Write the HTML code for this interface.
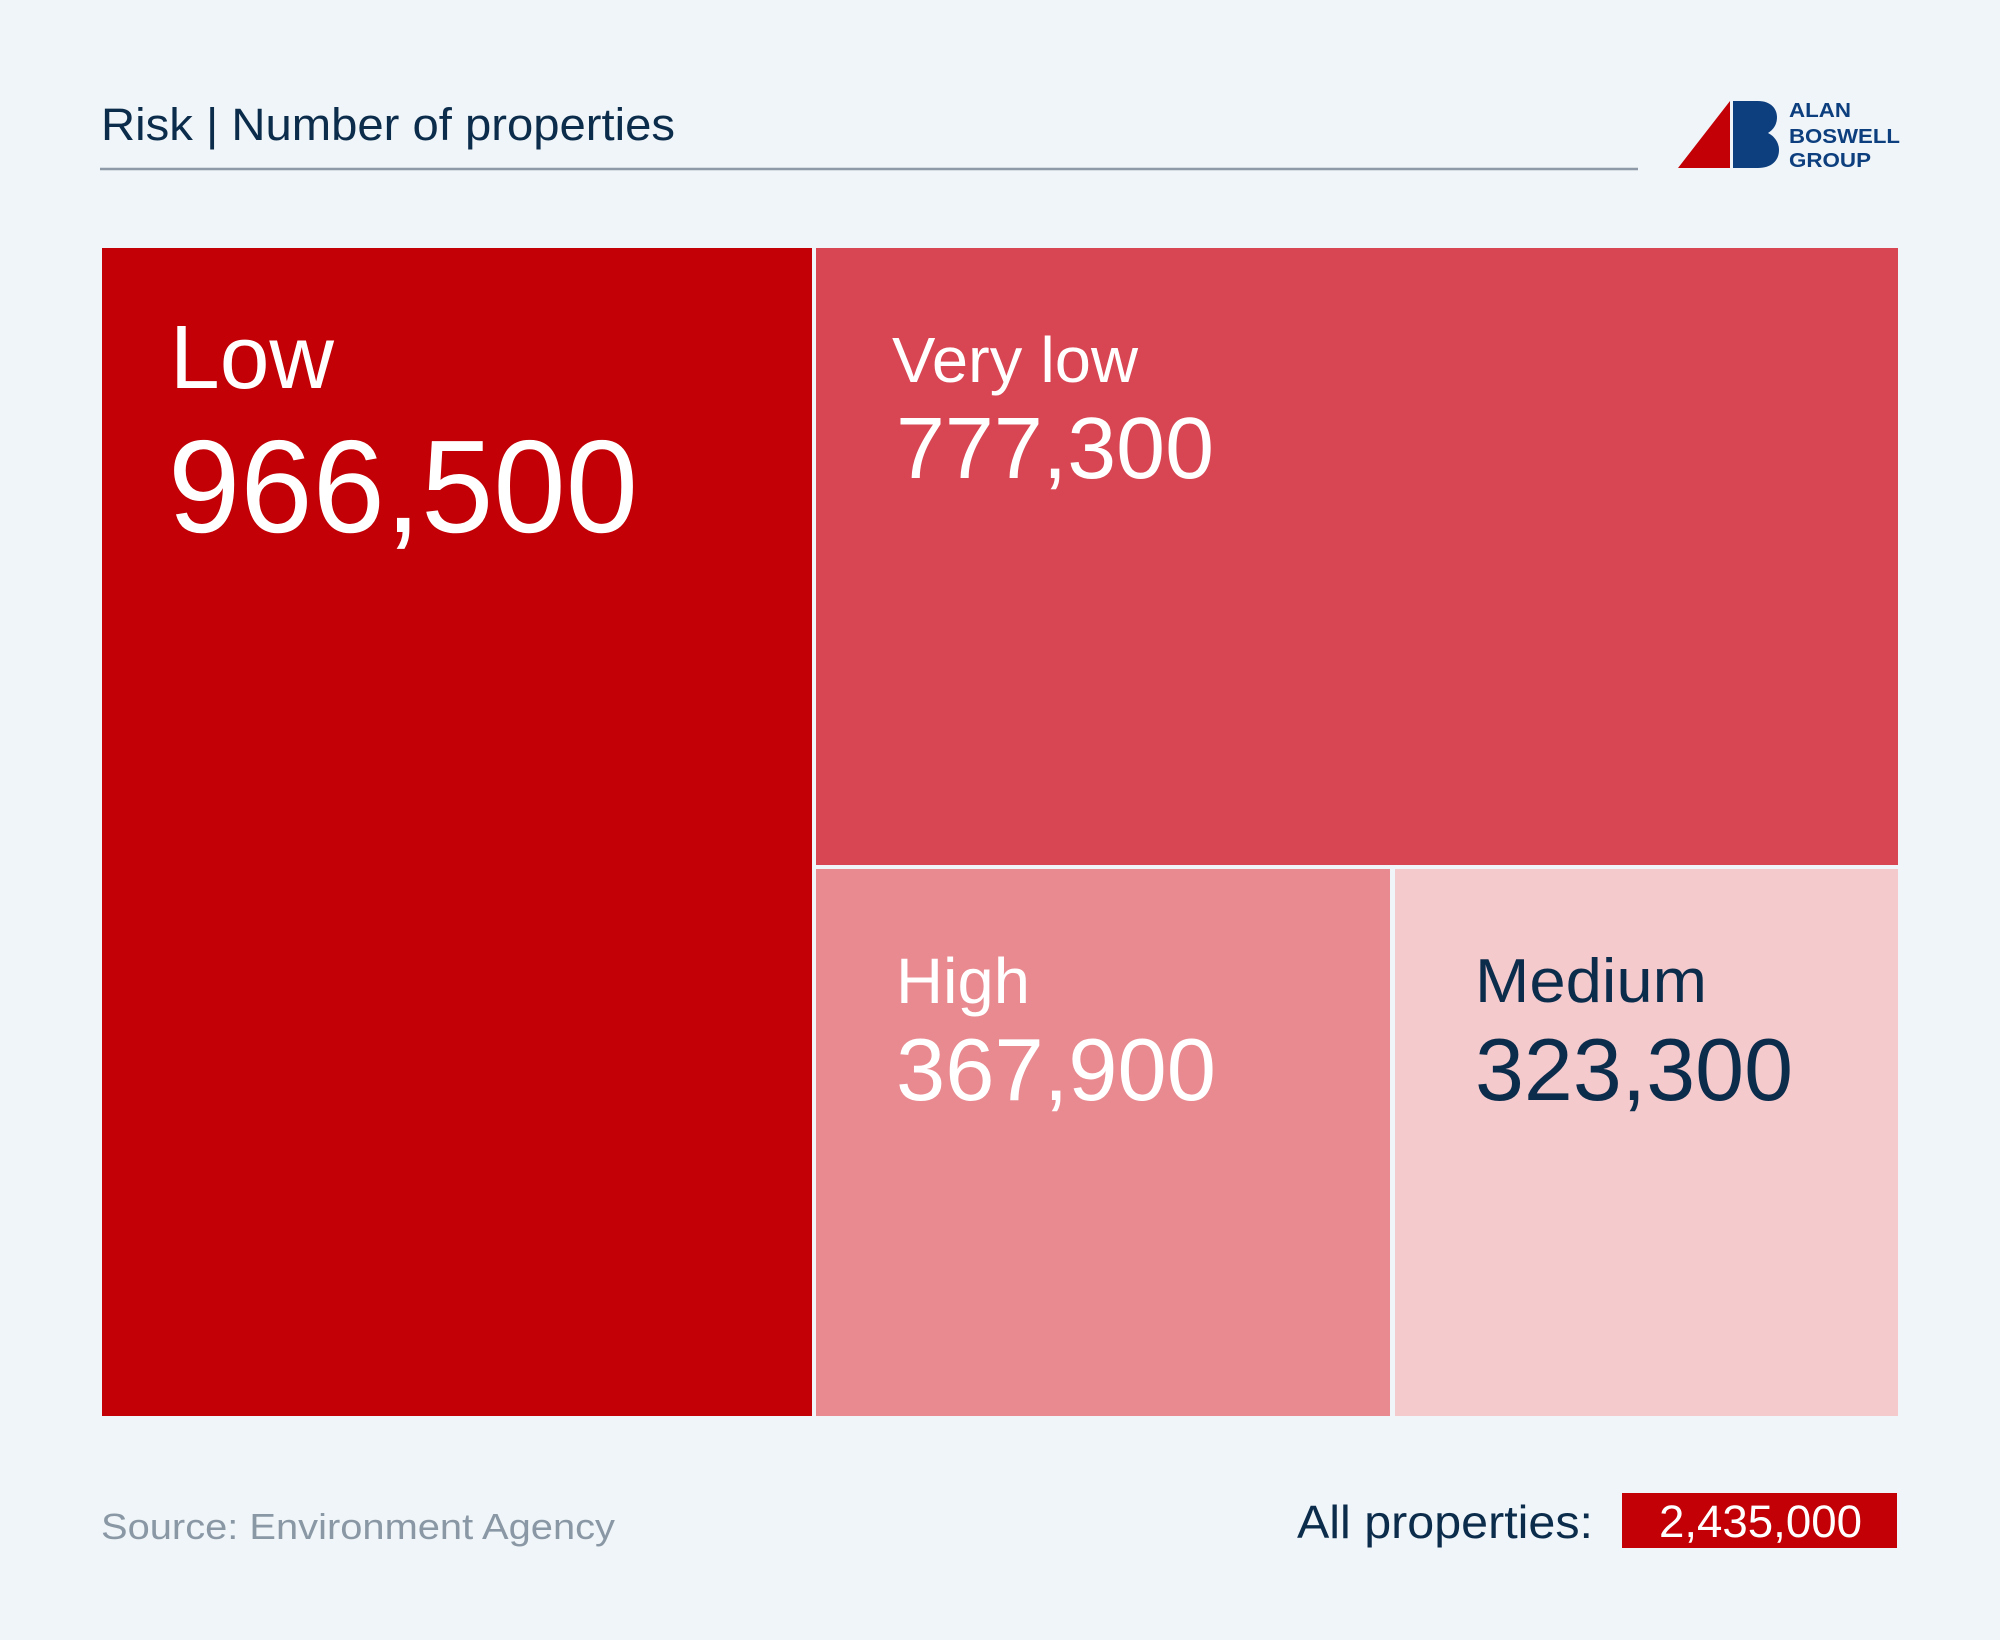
<!DOCTYPE html>
<html>
<head>
<meta charset="utf-8">
<style>
  html, body { margin: 0; padding: 0; background: #eff5f8; }
  body { width: 2000px; height: 1640px; overflow: hidden; }
  svg { display: block; }
  text { font-family: "Liberation Sans", "DejaVu Sans", sans-serif; }
</style>
</head>
<body>
<svg width="2000" height="1640" viewBox="0 0 2000 1640" xmlns="http://www.w3.org/2000/svg">
  <rect x="0" y="0" width="2000" height="1640" fill="#eff5f8"/>

  <!-- Title -->
  <text x="101" y="140" font-size="45" fill="#0c2c4c" textLength="574" lengthAdjust="spacingAndGlyphs">Risk | Number of properties</text>
  <line x1="100" y1="169" x2="1638" y2="169" stroke="#8e9aa7" stroke-width="2.5"/>

  <!-- Logo -->
  <polygon points="1678,168 1730,101 1730,168" fill="#c20005"/>
  <path d="M1733,101 H1758 C1771,101 1777,109 1777,117 C1777,125 1773,130 1768,133 C1774,136 1779,142 1779,150 C1779,161 1771,168 1758,168 H1733 Z" fill="#0d3f7f"/>
  <text x="1789" y="117" font-size="20" font-weight="bold" fill="#0d3f7f" textLength="62" lengthAdjust="spacingAndGlyphs">ALAN</text>
  <text x="1789" y="143" font-size="20" font-weight="bold" fill="#0d3f7f" textLength="111" lengthAdjust="spacingAndGlyphs">BOSWELL</text>
  <text x="1789" y="167" font-size="20" font-weight="bold" fill="#0d3f7f" textLength="82" lengthAdjust="spacingAndGlyphs">GROUP</text>

  <!-- Treemap -->
  <rect x="102" y="248" width="710" height="1168" fill="#c20005"/>
  <rect x="816" y="248" width="1082" height="617" fill="#d84653"/>
  <rect x="816" y="869" width="574" height="547" fill="#e88a90"/>
  <rect x="1395" y="869" width="503" height="547" fill="#f5cacd"/>

  <!-- Low -->
  <text x="170" y="388" font-size="90" fill="#ffffff" textLength="164" lengthAdjust="spacingAndGlyphs">Low</text>
  <text x="168" y="532" font-size="132" fill="#ffffff" textLength="470" lengthAdjust="spacingAndGlyphs">966,500</text>

  <!-- Very low -->
  <text x="892" y="382" font-size="64" fill="#ffffff" textLength="246" lengthAdjust="spacingAndGlyphs">Very low</text>
  <text x="896" y="478" font-size="87" fill="#ffffff" textLength="318" lengthAdjust="spacingAndGlyphs">777,300</text>

  <!-- High -->
  <text x="896" y="1003" font-size="64" fill="#ffffff" textLength="134" lengthAdjust="spacingAndGlyphs">High</text>
  <text x="896" y="1100" font-size="88" fill="#ffffff" textLength="320" lengthAdjust="spacingAndGlyphs">367,900</text>

  <!-- Medium -->
  <text x="1475" y="1002" font-size="62" fill="#0c2c4c" textLength="232" lengthAdjust="spacingAndGlyphs">Medium</text>
  <text x="1475" y="1100" font-size="88" fill="#0c2c4c" textLength="318" lengthAdjust="spacingAndGlyphs">323,300</text>

  <!-- Footer -->
  <text x="101" y="1539" font-size="36" fill="#8a98a5" textLength="514" lengthAdjust="spacingAndGlyphs">Source: Environment Agency</text>
  <text x="1297" y="1538" font-size="46" fill="#0c2c4c" textLength="296" lengthAdjust="spacingAndGlyphs">All properties:</text>
  <rect x="1622" y="1493" width="275" height="55" fill="#c20005"/>
  <text x="1659" y="1537" font-size="45" fill="#ffffff" textLength="203" lengthAdjust="spacingAndGlyphs">2,435,000</text>
</svg>
</body>
</html>
